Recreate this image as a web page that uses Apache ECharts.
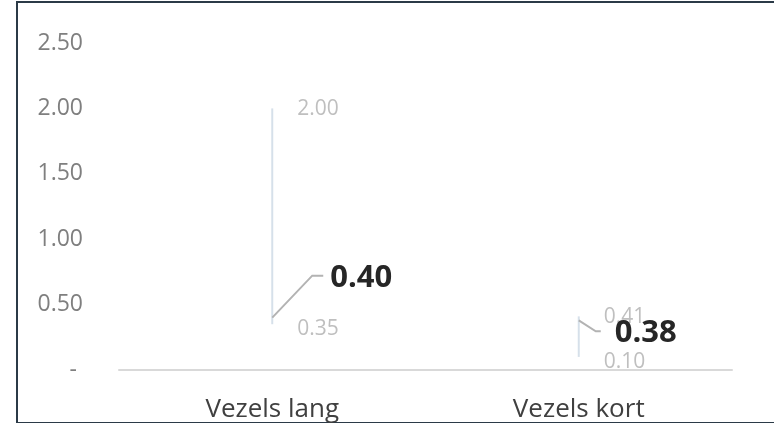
<!DOCTYPE html>
<html>
<head>
<meta charset="utf-8">
<script src="https://cdn.jsdelivr.net/npm/echarts@6/dist/echarts.min.js"></script>
<style>
  html, body { margin: 0; padding: 0; background: #fff; }
  #frame {
    position: absolute; left: 16px; top: 1px; width: 760px; height: 419px;
    border-top: 2px solid #2b3a47; border-left: 2px solid #2b3a47; border-bottom: 2px solid #2b3a47;
  }
  #chart { position: absolute; left: 0; top: 0; width: 774px; height: 423px; }
</style>
</head>
<body>
<div id="frame"></div>
<div id="chart"></div>
<script>
// chart data
const categories = ['Vezels lang', 'Vezels kort']
const minValues = [0.35, 0.10]
const maxValues = [2.00, 0.41]
const values = [0.40, 0.38]

// connector layout for each value label: elbow dx, elbow dy, horizontal run, gap to text (px)
const labelLayout = [[40, -42, 11, 7], [17, 11, 5, 14]]

const font = '"Open Sans", "Noto Sans", sans-serif'

const chart = echarts.init(document.getElementById('chart'))

const renderRange = (params, api) => {
  const ci = api.value(0)
  const pMin = api.coord([ci, api.value(1)])
  const pMax = api.coord([ci, api.value(2)])
  const pVal = api.coord([ci, api.value(3)])
  const [dx, dy, run, gap] = labelLayout[params.dataIndex]
  const elbow = [pVal[0] + dx, pVal[1] + dy]
  const end = [elbow[0] + run, elbow[1]]
  return {
    type: 'group',
    children: [
      {
        type: 'line',
        shape: { x1: pMin[0], y1: pMin[1], x2: pMax[0], y2: pMax[1] },
        style: { stroke: '#d6e0ea', lineWidth: 2 }
      },
      {
        type: 'text',
        style: {
          x: pMax[0] + 25, y: pMax[1] + 1,
          text: api.value(2).toFixed(2),
          fill: '#bfbfbf', font: '21px ' + font,
          verticalAlign: 'middle'
        }
      },
      {
        type: 'text',
        style: {
          x: pMin[0] + 25, y: pMin[1] + 5,
          text: api.value(1).toFixed(2),
          fill: '#bfbfbf', font: '21px ' + font,
          verticalAlign: 'middle'
        }
      },
      {
        type: 'polyline',
        shape: { points: [pVal, elbow, end] },
        style: { stroke: '#b3b3b3', lineWidth: 2, fill: null }
      },
      {
        type: 'text',
        style: {
          x: end[0] + gap, y: end[1] + 2,
          text: api.value(3).toFixed(2),
          fill: '#262626', font: 'bold 31px ' + font,
          verticalAlign: 'middle'
        }
      }
    ]
  }
}

const option = {
  animation: false,
  grid: { left: 119, right: 42, top: 43, bottom: 52 },
  xAxis: {
    type: 'category',
    data: categories,
    axisLine: { lineStyle: { color: '#d9d9d9', width: 2 } },
    axisTick: { show: false },
    axisLabel: { color: '#404040', fontSize: 26, fontFamily: font, margin: 27 }
  },
  yAxis: {
    type: 'value',
    min: 0,
    max: 2.5,
    interval: 0.5,
    axisLine: { show: false },
    axisTick: { show: false },
    splitLine: { show: false },
    axisLabel: {
      color: '#7f7f7f', fontSize: 23, fontFamily: font, margin: 36,
      formatter: v => (v === 0 ? '- ' : v.toFixed(2))
    }
  },
  series: [
    {
      type: 'custom',
      renderItem: renderRange,
      data: categories.map((c, i) => [i, minValues[i], maxValues[i], values[i]]),
      encode: { x: 0, y: [1, 2, 3] }
    }
  ]
}

chart.setOption(option)
</script>
</body>
</html>
